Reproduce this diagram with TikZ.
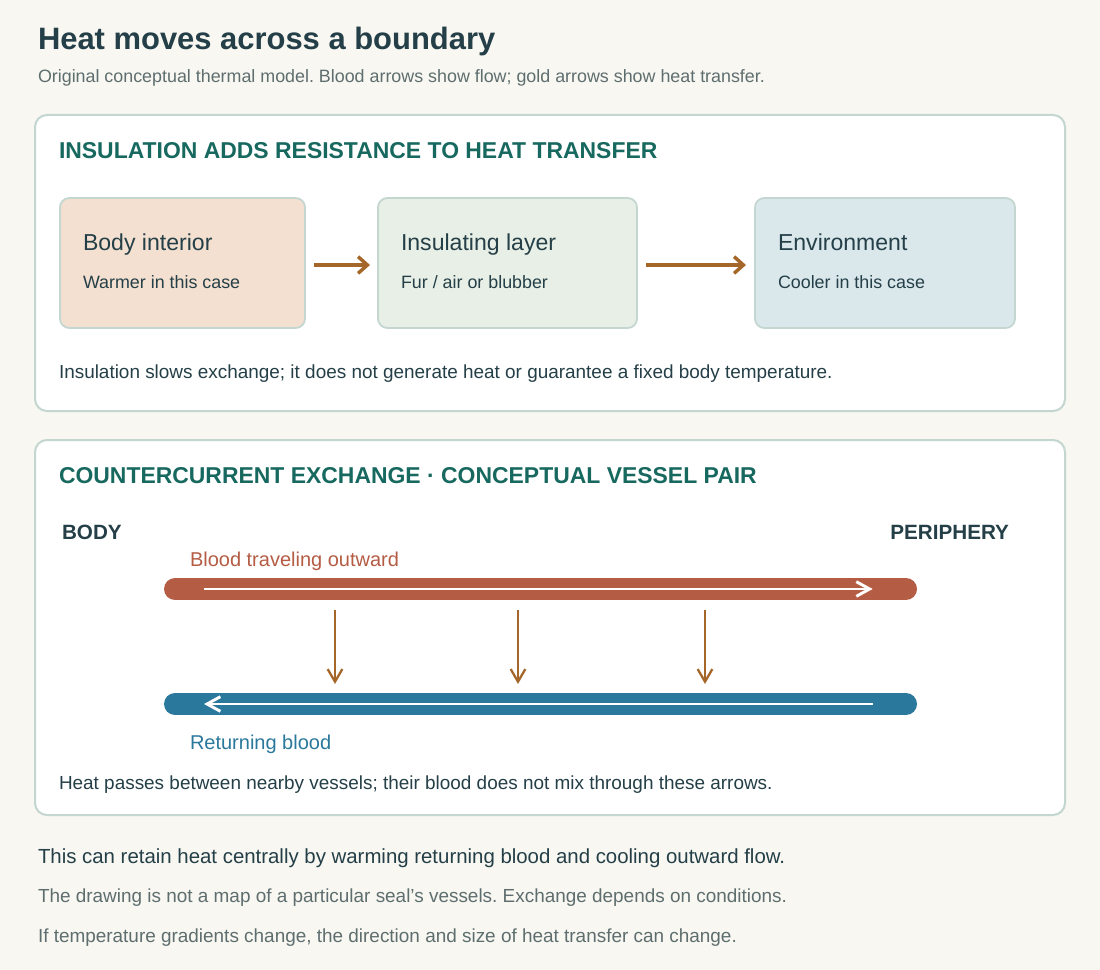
\documentclass[tikz,border=0pt]{standalone}
\usepackage{fontspec}
\setmainfont{Liberation Sans}
\usetikzlibrary{arrows.meta,positioning}
\frenchspacing

\definecolor{bgpaper}{HTML}{F8F7F2}
\definecolor{ink}{HTML}{243F47}
\definecolor{inkgray}{HTML}{5E6E6E}
\definecolor{tealhead}{HTML}{17695F}
\definecolor{panelline}{HTML}{C3D6D0}
\definecolor{warmfill}{HTML}{F3E0D0}
\definecolor{layerfill}{HTML}{E8EFE6}
\definecolor{coolfill}{HTML}{DAE8EC}
\definecolor{gold}{HTML}{A5662A}
\definecolor{bloodred}{HTML}{B55C44}
\definecolor{bloodblue}{HTML}{2A789C}

\begin{document}
\begin{tikzpicture}[x=0.75pt, y=-0.75pt,
    every node/.style={inner sep=0pt, outer sep=0pt, anchor=base west},
    panel/.style={draw=panelline, line width=1.5pt, fill=white, rounded corners=9pt},
    zone/.style={draw=panelline, line width=1.3pt, rounded corners=7pt, minimum width=#1, minimum height=97.5pt, anchor=north west},
    heat/.style={draw=gold, line width=3pt, -{Straight Barb[length=7pt, width=12.5pt, line width=2.6pt]}},
    heatdown/.style={draw=gold, line width=1.7pt, -{Straight Barb[length=9.5pt, width=11pt, line width=1.7pt]}},
    vessel/.style={line width=16.5pt, line cap=round},
    flow/.style={draw=white, line width=2.2pt, -{Straight Barb[length=10pt, width=11pt, line width=2.2pt]}},
    heading/.style={font=\fontsize{17.2}{20}\selectfont\bfseries, text=tealhead},
    boxtitle/.style={font=\fontsize{17.3}{20}\selectfont, text=ink},
    boxsub/.style={font=\fontsize{13.4}{16}\selectfont, text=ink},
    note/.style={font=\fontsize{14.2}{17}\selectfont, text=ink},
    side/.style={font=\fontsize{15.5}{18}\selectfont\bfseries, text=ink}
  ]

    % page
    \fill[bgpaper] (0,0) rectangle (1100,970);
    \useasboundingbox (0,0) rectangle (1100,970);

    % --- title ---
    \node[font=\fontsize{23.2}{27}\selectfont\bfseries, text=ink] (title) at (38,49.5) {Heat moves across a boundary};
    \node[font=\fontsize{13.4}{16}\selectfont, text=inkgray] (subtitle) at (38,82.5) {Original conceptual thermal model. Blood arrows show flow; gold arrows show heat transfer.};

    % --- panel 1: insulation ---
    \draw[panel] (35,115) rectangle (1065,411);
    \node[heading] (insHead) at (59,159) {INSULATION ADDS RESISTANCE TO HEAT TRANSFER};

    \node[zone=183.75pt, fill=warmfill] (body) at (60,198) {};
    \node[zone=194.25pt, fill=layerfill] (layer) at (378,198) {};
    \node[zone=195pt, fill=coolfill] (env) at (755,198) {};

    \node[boxtitle] (bodyT) at (83,250.5) {Body interior};
    \node[boxsub] (bodyS) at (83,288.5) {Warmer in this case};
    \node[boxtitle] (layerT) at (401,250.5) {Insulating layer};
    \node[boxsub] (layerS) at (401,288.5) {Fur / air or blubber};
    \node[boxtitle] (envT) at (778,250.5) {Environment};
    \node[boxsub] (envS) at (778,288.5) {Cooler in this case};

    \draw[heat, shorten <=6.75pt, shorten >=6pt] ([yshift=-1.5pt]body.east) -- ([yshift=-1.5pt]layer.west);
    \draw[heat, shorten <=6.75pt, shorten >=6.75pt] ([yshift=-1.5pt]layer.east) -- ([yshift=-1.5pt]env.west);

    \node[note] (insNote) at (59,378) {Insulation slows exchange; it does not generate heat or guarantee a fixed body temperature.};

    % --- panel 2: countercurrent ---
    \draw[panel] (35,440) rectangle (1065,815);
    \node[heading] (ccHead) at (59,483) {COUNTERCURRENT EXCHANGE · CONCEPTUAL VESSEL PAIR};

    \node[side] (bodySide) at (62,539.5) {BODY};
    \node[side, anchor=base east] (periSide) at (1009,539.5) {PERIPHERY};

    \node[note, font=\fontsize{15}{18}\selectfont, text=bloodred] (outLabel) at (190,566.5) {Blood traveling outward};
    \node[note, font=\fontsize{15}{18}\selectfont, text=bloodblue] (retLabel) at (190,749.5) {Returning blood};

    % vessel ends
    \coordinate (outA) at (175,589);
    \coordinate (outB) at (906,589);
    \coordinate (retA) at (175,704);
    \coordinate (retB) at (906,704);

    \draw[vessel, bloodred] (outA) -- (outB);
    \draw[vessel, bloodblue] (retA) -- (retB);
    \draw[flow] ([xshift=21.75pt]outA) -- ([xshift=-25pt]outB);
    \draw[flow] ([xshift=-25pt]retB) -- ([xshift=21.75pt]retA);

    % heat passes from outward to returning vessel
    \foreach \x/\name in {335/hA, 518/hB, 705/hC} {%
        \coordinate (\name top) at (\x,610);
        \coordinate (\name bot) at (\x,684);
        \draw[heatdown] (\name top) -- (\name bot);
    }

    \node[note] (ccNote) at (59,789.5) {Heat passes between nearby vessels; their blood does not mix through these arrows.};

    % --- footer ---
    \node[font=\fontsize{15.3}{18}\selectfont, text=ink] (foot1) at (38,863.5) {This can retain heat centrally by warming returning blood and cooling outward flow.};
    \node[font=\fontsize{14.2}{17}\selectfont, text=inkgray] (foot2) at (38,902.5) {The drawing is not a map of a particular seal’s vessels. Exchange depends on conditions.};
    \node[font=\fontsize{14.2}{17}\selectfont, text=inkgray] (foot3) at (38,942.5) {If temperature gradients change, the direction and size of heat transfer can change.};

\end{tikzpicture}
\end{document}
